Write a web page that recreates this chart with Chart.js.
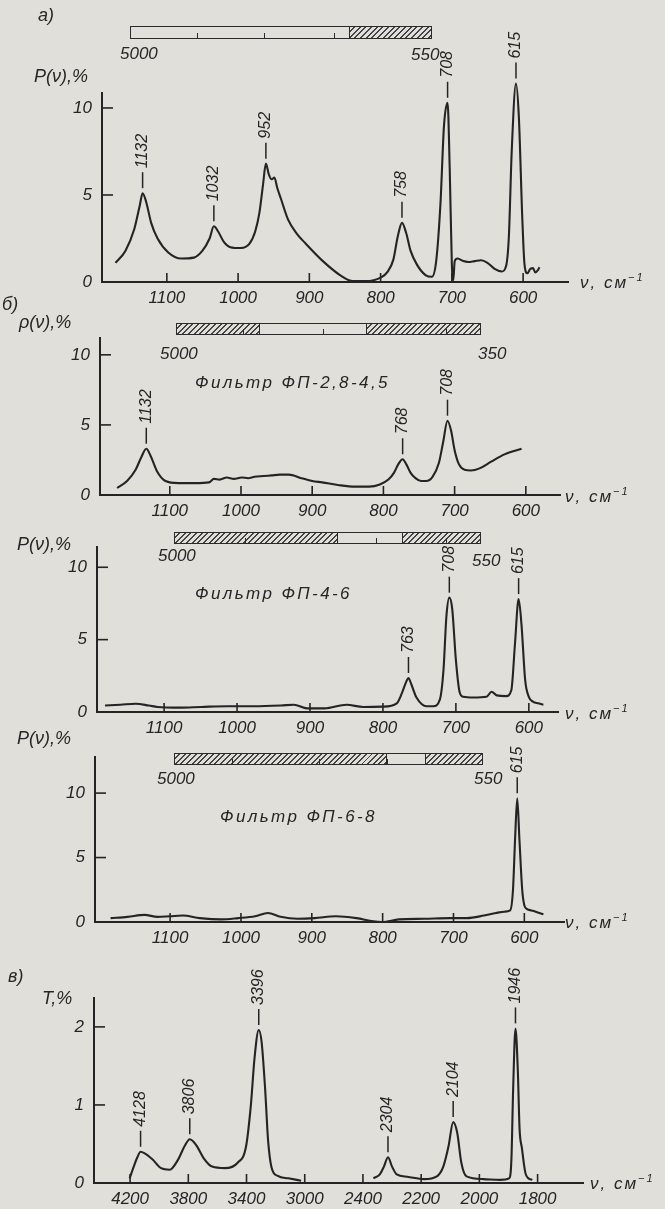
<!DOCTYPE html>
<html>
<head>
<meta charset="utf-8">
<script src="https://cdn.jsdelivr.net/npm/chart.js@4.4.1/dist/chart.umd.min.js"></script>
<style>
  body { margin: 0; background: #e1dfd9; }
  #page { position: relative; width: 665px; height: 1209px; overflow: hidden; background: #e1dfd9; }
  canvas { position: absolute; left: 0; }
  .t { position: absolute; font: italic 17px "Liberation Sans", Arial, sans-serif; color: #262626; line-height: 1; white-space: nowrap; }
  .t sup { font-size: 11px; vertical-align: 7px; }
  .u { letter-spacing: 2px; }
  .f { letter-spacing: 2.4px; }
  .bar { position: absolute; border: 1.5px solid #2a2a2a; box-sizing: border-box; }
  .seg { position: absolute; top: 0; bottom: 0; box-sizing: border-box;
         background: repeating-linear-gradient(135deg, transparent 0 2.6px, #444 2.6px 4px); }
  .mk { position: absolute; bottom: 0; width: 1.4px; height: 5px; background: #2a2a2a; }
</style>
</head>
<body>
<div id="page">
  <canvas id="ca"></canvas>
  <canvas id="cb"></canvas>
  <canvas id="cc"></canvas>
  <canvas id="cd"></canvas>
  <canvas id="ce"></canvas>

  <!-- panel a -->
  <div class="t" style="left:38px;top:6px;font-size:18px">а)</div>
  <div class="bar" style="left:130px;top:26px;width:302px;height:13px">
    <div class="seg" style="left:218px;right:0;border-left:1.5px solid #2a2a2a"></div>
    <div class="mk" style="left:66px"></div><div class="mk" style="left:133px"></div><div class="mk" style="left:203px"></div>
  </div>
  <div class="t" style="left:120px;top:45px">5000</div>
  <div class="t" style="left:411px;top:46px">550</div>
  <div class="t" style="left:34px;top:67px;font-size:18px">P(ν),%</div>
  <div class="t u" style="left:580px;top:272px">ν, см<sup>−1</sup></div>

  <!-- panel b -->
  <div class="t" style="left:2px;top:295px;font-size:18px">б)</div>
  <div class="bar" style="left:176px;top:323px;width:305px;height:12px">
    <div class="seg" style="left:0;width:83px;border-right:1.5px solid #2a2a2a"></div>
    <div class="seg" style="left:189px;right:0;border-left:1.5px solid #2a2a2a"></div>
    <div class="mk" style="left:66px"></div><div class="mk" style="left:146px"></div><div class="mk" style="left:269px"></div>
  </div>
  <div class="t" style="left:160px;top:345px">5000</div>
  <div class="t" style="left:478px;top:345px">350</div>
  <div class="t" style="left:19px;top:313px;font-size:18px">ρ(ν),%</div>
  <div class="t f" style="left:195px;top:374px">Фильтр ФП-2,8-4,5</div>
  <div class="t u" style="left:565px;top:486px">ν, см<sup>−1</sup></div>

  <!-- panel c -->
  <div class="bar" style="left:174px;top:532px;width:307px;height:12px">
    <div class="seg" style="left:0;width:163px;border-right:1.5px solid #2a2a2a"></div>
    <div class="seg" style="left:227px;right:0;border-left:1.5px solid #2a2a2a"></div>
    <div class="mk" style="left:70px"></div><div class="mk" style="left:201px"></div><div class="mk" style="left:271px"></div>
  </div>
  <div class="t" style="left:158px;top:547px">5000</div>
  <div class="t" style="left:472px;top:552px">550</div>
  <div class="t" style="left:17px;top:535px;font-size:18px">P(ν),%</div>
  <div class="t f" style="left:195px;top:585px">Фильтр ФП-4-6</div>
  <div class="t u" style="left:565px;top:703px">ν, см<sup>−1</sup></div>

  <!-- panel d -->
  <div class="bar" style="left:174px;top:753px;width:309px;height:12px">
    <div class="seg" style="left:0;width:212px;border-right:1.5px solid #2a2a2a"></div>
    <div class="seg" style="left:250px;right:0;border-left:1.5px solid #2a2a2a"></div>
    <div class="mk" style="left:57px"></div><div class="mk" style="left:144px"></div><div class="mk" style="left:212px"></div>
  </div>
  <div class="t" style="left:157px;top:770px">5000</div>
  <div class="t" style="left:474px;top:770px">550</div>
  <div class="t" style="left:17px;top:729px;font-size:18px">P(ν),%</div>
  <div class="t f" style="left:220px;top:808px">Фильтр ФП-6-8</div>
  <div class="t u" style="left:565px;top:912px">ν, см<sup>−1</sup></div>

  <!-- panel e -->
  <div class="t" style="left:8px;top:967px;font-size:18px">в)</div>
  <div class="t" style="left:42px;top:989px;font-size:18px">T,%</div>
  <div class="t u" style="left:590px;top:1173px">ν, см<sup>−1</sup></div>
</div>

<script>
/*************** data ***************/
const xTicksIR = [1100, 1000, 900, 800, 700, 600];
const yTicksP = [0, 5, 10];

// a) full spectrum
const aNu = [1172,1158,1146,1138,1134,1129,1122,1113,1098,1080,1062,1050,1040,1034,1028,1020,1011,996,984,976,970,965,961,957,953,949,945,940,930,918,905,881,857,839,821,800,790,782,776,770,764,758,749,737,728,722,716,711,706,703,700,698,696,692,684,677,668,659,650,640,630,624,620,616,610,606,601,598,594,590,586,583,579,577];
const aP = [1.1,1.8,3.0,4.4,5.1,4.6,3.4,2.5,1.7,1.35,1.4,1.8,2.5,3.2,2.9,2.3,2.0,1.95,2.2,2.9,4.0,5.6,6.8,6.2,5.9,6.0,5.4,4.8,3.6,2.8,2.2,1.2,0.4,0.05,0.05,0.25,0.6,1.3,2.6,3.4,2.8,1.8,1.0,0.4,0.3,1.2,4.5,9.0,10.3,6.5,1.0,0.1,1.2,1.35,1.2,1.15,1.2,1.25,1.1,0.75,0.6,0.9,2.6,7.5,11.4,9.5,3.5,1.0,0.5,0.75,0.8,0.55,0.7,0.85];
const aPeakText = ['1132', '1032', '952', '758', '708', '615'];
const aPeakNu = [1134, 1034, 961, 770, 706, 610];

// b) filter FP-2,8-4,5
const bNu = [1174,1160,1148,1140,1133,1127,1118,1106,1088,1064,1045,1038,1030,1020,1010,999,990,981,968,957,945,933,915,900,886,862,840,820,805,793,785,779,773,768,762,755,747,740,731,722,716,710,705,700,694,686,677,665,648,630,606];
const bP = [0.5,1.0,1.8,2.7,3.3,2.8,1.7,1.0,0.85,0.85,0.9,1.15,1.1,1.25,1.15,1.25,1.2,1.3,1.35,1.4,1.45,1.45,1.2,1.0,0.9,0.7,0.6,0.6,0.75,1.1,1.6,2.2,2.55,2.2,1.6,1.2,1.0,1.0,1.3,2.3,3.8,5.3,4.6,3.2,2.2,1.8,1.75,1.9,2.4,2.9,3.3];
const bPeakText = ['1132', '768', '708'];
const bPeakNu = [1133, 773, 710];

// c) filter FP-4-6
const cNu = [1181,1160,1139,1121,1109,1079,1049,1013,977,940,922,904,880,850,827,800,781,774,768,765,761,754,740,731,722,717,713,709,705,700,695,690,676,658,651,644,631,624,619,614,610,605,600,594,587,580];
const cP = [0.45,0.5,0.57,0.45,0.35,0.3,0.35,0.4,0.4,0.45,0.5,0.25,0.25,0.5,0.35,0.37,0.6,1.3,2.1,2.35,1.9,1.0,0.4,0.4,0.85,2.9,6.6,7.9,7.1,3.6,1.4,1.05,1.0,1.05,1.4,1.15,1.1,1.5,4.7,7.8,6.0,2.2,1.05,0.7,0.6,0.5];
const cPeakText = ['763', '708', '615'];
const cPeakNu = [765, 709, 614];

// d) filter FP-6-8
const dNu = [1184,1160,1136,1118,1100,1082,1058,1028,1004,980,962,944,920,896,866,837,813,801,777,741,705,681,657,640,628,620,616,613,610,607,603,600,596,590,584,573];
const dP = [0.3,0.4,0.55,0.4,0.45,0.5,0.3,0.2,0.3,0.45,0.7,0.4,0.25,0.3,0.45,0.3,0.05,0.0,0.2,0.25,0.3,0.3,0.5,0.7,0.8,0.9,2.5,6.5,9.6,6.5,2.5,1.3,1.0,0.9,0.8,0.6];
const dPeakText = ['615'];
const dPeakNu = [610];

// e) transmission, broken axis
const eTicks = [4200, 3800, 3400, 3000, 2400, 2200, 2000, 1800];
const yTicksT = [0, 1, 2];
const eNu1 = [4203,4175,4150,4128,4100,4070,4045,3987,3928,3870,3826,3790,3760,3740,3695,3636,3549,3461,3403,3370,3345,3316,3296,3272,3252,3228,3185,3113,3025];
const eT1 = [0.06,0.21,0.33,0.40,0.38,0.34,0.30,0.19,0.17,0.30,0.47,0.56,0.52,0.47,0.32,0.21,0.19,0.26,0.47,1.0,1.6,1.96,1.8,1.2,0.55,0.2,0.09,0.06,0.03];
const eNu2 = [2364,2342,2328,2314,2300,2284,2248,2190,2146,2124,2106,2090,2076,2062,2044,1986,1928,1898,1890,1884,1876,1868,1862,1854,1842,1832,1818];
const eT2 = [0.06,0.11,0.21,0.33,0.21,0.11,0.08,0.05,0.085,0.21,0.47,0.78,0.64,0.26,0.085,0.05,0.04,0.06,0.3,1.2,1.98,1.45,0.7,0.45,0.13,0.06,0.04];
const ePeakText = ['4128', '3806', '3396', '2304', '2104', '1946'];
const ePeakNu = [4128, 3790, 3316, 2314, 2090, 1876];

/*************** helpers ***************/
const INK = '#242424';
const FONT = { family: '"Liberation Sans", Arial, sans-serif', size: 17, style: 'italic' };

// position on the broken axis of panel e: tick index, linear between ticks
function eIdx(nu) {
  let i = 0;
  while (i < eTicks.length - 2 && nu < eTicks[i + 1]) i++;
  return i + (eTicks[i] - nu) / (eTicks[i] - eTicks[i + 1]);
}

function pairs(xs, ys, f) {
  return xs.map((v, i) => ({ x: f ? f(v) : v, y: ys[i] }));
}

// small tick marks pointing into the plot
const innerTicks = {
  id: 'innerTicks',
  afterDraw(chart) {
    const { ctx, chartArea: a, scales: { x, y } } = chart;
    ctx.save();
    ctx.strokeStyle = INK;
    ctx.lineWidth = 1.6;
    x.ticks.forEach(t => {
      const px = x.getPixelForValue(t.value);
      ctx.beginPath(); ctx.moveTo(px, a.bottom); ctx.lineTo(px, a.bottom - 9); ctx.stroke();
    });
    y.ticks.forEach(t => {
      if (t.value === 0) return;
      const py = y.getPixelForValue(t.value);
      ctx.beginPath(); ctx.moveTo(a.left, py); ctx.lineTo(a.left + 11, py); ctx.stroke();
    });
    ctx.restore();
  }
};

// vertical peak labels with a short leader line
const peakLabels = {
  id: 'peakLabels',
  afterDatasetsDraw(chart, args, opts) {
    if (!opts.text) return;
    const { ctx, scales: { x, y } } = chart;
    const pts = chart.data.datasets.flatMap(d => d.data);
    ctx.save();
    ctx.fillStyle = INK;
    ctx.strokeStyle = INK;
    ctx.lineWidth = 1.5;
    ctx.font = 'italic 16px "Liberation Sans", Arial, sans-serif';
    opts.text.forEach((txt, i) => {
      const at = opts.at[i];
      let near = pts[0];
      pts.forEach(p => { if (Math.abs(p.x - at) < Math.abs(near.x - at)) near = p; });
      const px = x.getPixelForValue(at);
      const py = y.getPixelForValue(near.y);
      ctx.beginPath(); ctx.moveTo(px, py - 5); ctx.lineTo(px, py - 21); ctx.stroke();
      ctx.save();
      ctx.translate(px, py - 25);
      ctx.rotate(-Math.PI / 2);
      ctx.textAlign = 'left';
      ctx.textBaseline = 'middle';
      ctx.fillText(txt, 0, 0);
      ctx.restore();
    });
    ctx.restore();
  }
};

function panel(id, box, xr, yr, xTicks, yTicks, sets, peaks, xLabel) {
  const cv = document.getElementById(id);
  cv.width = 665;
  cv.height = box.h;
  cv.style.top = box.top + 'px';
  return new Chart(cv, {
    type: 'line',
    data: {
      datasets: sets.map(s => ({
        data: s, borderColor: INK, borderWidth: 2.1, pointRadius: 0,
        cubicInterpolationMode: 'monotone', clip: false
      }))
    },
    options: {
      responsive: false,
      animation: false,
      layout: { padding: { left: 0, right: 665 - box.right, top: box.plotTop - box.top, bottom: 0 } },
      plugins: { legend: { display: false }, tooltip: { enabled: false }, peakLabels: peaks },
      scales: {
        x: {
          type: 'linear', min: xr[0], max: xr[1], reverse: xr[2],
          afterBuildTicks: s => { s.ticks = xTicks.map(v => ({ value: v })); },
          afterFit: s => { s.height = box.top + box.h - box.axisY; },
          grid: { display: false, drawTicks: false },
          border: { color: INK, width: 2 },
          ticks: { font: FONT, color: INK, padding: 6, maxRotation: 0, autoSkip: false, callback: xLabel }
        },
        y: {
          type: 'linear', min: yr[0], max: yr[1],
          afterBuildTicks: s => { s.ticks = yTicks.map(v => ({ value: v })); },
          afterFit: s => { s.width = box.left; },
          grid: { display: false, drawTicks: false },
          border: { color: INK, width: 2 },
          ticks: { font: FONT, color: INK, padding: 10, callback: v => String(v) }
        }
      }
    },
    plugins: [innerTicks, peakLabels]
  });
}

const plain = v => String(v);

panel('ca', { top: 0, h: 320, left: 102, right: 568, plotTop: 93, axisY: 282 },
  [537, 1191, true], [0, 10.86], xTicksIR, yTicksP,
  [pairs(aNu, aP)], { text: aPeakText, at: aPeakNu }, plain);

panel('cb', { top: 300, h: 230, left: 100, right: 560, plotTop: 338, axisY: 495 },
  [552, 1198, true], [0, 11.2], xTicksIR, yTicksP,
  [pairs(bNu, bP)], { text: bPeakText, at: bPeakNu }, plain);

panel('cc', { top: 515, h: 230, left: 97, right: 558, plotTop: 547, axisY: 712 },
  [560, 1192, true], [0, 11.4], xTicksIR, yTicksP,
  [pairs(cNu, cP)], { text: cPeakText, at: cPeakNu }, plain);

panel('cd', { top: 735, h: 220, left: 95, right: 564, plotTop: 757, axisY: 922 },
  [544, 1206, true], [0, 12.8], xTicksIR, yTicksP,
  [pairs(dNu, dP)], { text: dPeakText, at: dPeakNu }, plain);

panel('ce', { top: 940, h: 269, left: 94, right: 583, plotTop: 998, axisY: 1183 },
  [-0.62, 7.78, false], [0, 2.37], eTicks.map((v, i) => i), yTicksT,
  [pairs(eNu1, eT1, eIdx), pairs(eNu2, eT2, eIdx)],
  { text: ePeakText, at: ePeakNu.map(eIdx) }, v => String(eTicks[v]));
</script>
</body>
</html>
